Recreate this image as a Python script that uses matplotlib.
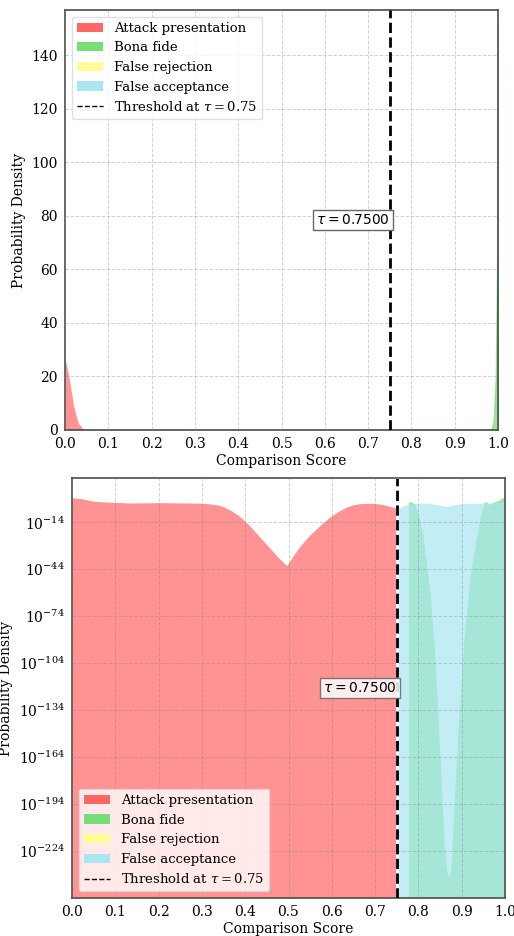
import matplotlib
matplotlib.use("Agg")
import matplotlib.pyplot as plt
import numpy as np
from matplotlib.patches import Patch
from matplotlib.lines import Line2D
from matplotlib.ticker import FixedLocator, NullLocator, LogFormatterSciNotation

plt.rcParams['font.family'] = ['DejaVu Serif']
plt.rcParams['mathtext.fontset'] = 'dejavuserif'
plt.rcParams['font.size'] = 10

# threshold on the comparison score
threshold = 0.75

# attack presentation scores: x and log10 of the density
attack_x = [0.0, 0.01, 0.02, 0.03, 0.04, 0.05, 0.065, 0.08, 0.1, 0.134, 0.17, 0.203,
            0.25, 0.28, 0.30, 0.32, 0.34, 0.355, 0.37, 0.388, 0.41, 0.434, 0.457,
            0.48, 0.497, 0.51, 0.527, 0.55, 0.573, 0.596, 0.619, 0.635, 0.65, 0.665,
            0.681, 0.70, 0.72, 0.74,
            0.75, 0.76, 0.77, 0.782, 0.80, 0.82, 0.84, 0.865, 0.88, 0.90, 0.93, 0.96,
            0.98, 1.0]
attack_log = [1.43, 1.28, 0.95, 0.45, -0.2, -0.7, -1.1, -1.3, -1.5, -1.9, -1.8, -1.7,
              -1.85, -1.95, -2.1, -2.5, -3.3, -4.8, -7.0, -10.4, -16.0, -23.4, -30.5,
              -37.5, -42.0, -36.5, -29.8, -22.5, -16.5, -11.0, -6.8, -4.5, -3.1, -2.4,
              -2.1, -2.2, -3.0, -4.4,
              -5.3, -4.6, -3.3, -2.5, -2.1, -2.0, -2.8, -4.2, -3.2, -2.3, -2.1, -2.0,
              -1.6, -1.0]

# bona fide scores: x and log10 of the density
bona_x = [0.778, 0.782, 0.786, 0.792, 0.80, 0.81, 0.82, 0.83, 0.838, 0.845, 0.852,
          0.861, 0.866, 0.871, 0.876, 0.880, 0.89, 0.904, 0.92, 0.938, 0.948, 0.954,
          0.958, 0.965, 0.972, 0.977, 0.985, 0.99, 0.995, 0.998, 1.0]
bona_log = [-1.3, -1.0, -1.3, -2.5, -8.0, -20.0, -40.0, -65.0, -96.0, -130.0, -170.0,
            -222.0, -236.0, -242.0, -236.0, -215.0, -160.0, -96.0, -50.0, -19.0, -6.0,
            -1.3, -1.0, -3.2, -1.8, -1.0, -0.5, 0.5, 1.3, 1.8, 2.18]

x_ticks = [0.0, 0.1, 0.2, 0.3, 0.4, 0.5, 0.6, 0.7, 0.8, 0.9, 1.0]
lin_ticks = [0, 20, 40, 60, 80, 100, 120, 140]
log_ticks = [-224, -194, -164, -134, -104, -74, -44, -14]

c_attack, c_bona, c_frr, c_far = '#ff6666', '#77dd77', '#fdfd96', '#aae6f0'

ax_ = np.array(attack_x)
ad = 10.0 ** np.array(attack_log)
bx = np.array(bona_x)
bd = 10.0 ** np.array(bona_log)


def draw(ax, log_scale):
    lo, hi = ax_ <= threshold, ax_ >= threshold
    ax.fill_between(ax_[lo], ad[lo], color=c_attack, alpha=0.7, lw=0)
    bhi, blo = bx >= threshold, bx <= threshold
    ax.fill_between(bx[bhi], bd[bhi], color=c_bona, alpha=0.7,
                    lw=0 if log_scale else 1.0)
    if blo.any():
        ax.fill_between(bx[blo], bd[blo], color=c_frr, alpha=0.7, lw=0)
    ax.fill_between(ax_[hi], ad[hi], color=c_far, alpha=0.7, lw=0)

    if log_scale:
        ax.axvline(threshold, color='white', lw=2, zorder=4)
    ax.axvline(threshold, color='black', lw=2, ls='--', zorder=4)

    ax.set_xlim(0, 1)
    ax.set_xticks(x_ticks)
    ax.grid(True, ls='--', color='gray', alpha=0.35, lw=0.7)
    ax.set_axisbelow(False)
    ax.tick_params(length=0, pad=5)
    for s in ax.spines.values():
        s.set_color('0.3')
        s.set_linewidth(1.2)
    ax.set_xlabel('Comparison Score', labelpad=2)
    ax.set_ylabel('Probability Density')

    ax.text(threshold, 0.5, r'$\tau = 0.7500$', transform=ax.get_xaxis_transform(),
            ha='right', va='center', fontsize=10, math_fontfamily='dejavusans',
            bbox=dict(boxstyle='square,pad=0.2', facecolor='white', edgecolor='0.4',
                      alpha=0.85 if log_scale else 1.0), zorder=6)

    handles = [Patch(facecolor=c_attack, label='Attack presentation'),
               Patch(facecolor=c_bona, label='Bona fide'),
               Patch(facecolor=c_frr, label='False rejection'),
               Patch(facecolor=c_far, label='False acceptance'),
               Line2D([0], [0], color='black', lw=1, ls='--',
                      label=r'Threshold at $\tau = 0.75$')]
    leg = ax.legend(handles=handles, loc='lower left' if log_scale else 'upper left',
                    fontsize=9.5, framealpha=0.8, fancybox=True,
                    handlelength=2.0, borderpad=0.4, labelspacing=0.5)
    leg.get_frame().set_edgecolor('0.85')


fig = plt.figure(figsize=(5.14, 9.36), dpi=100)
ax1 = fig.add_axes([65 / 514, 1 - 430 / 936, 433 / 514, 420 / 936])
ax2 = fig.add_axes([72 / 514, 1 - 898 / 936, 433 / 514, 420 / 936])

draw(ax1, False)
ax1.set_ylim(0, 157)
ax1.set_yticks(lin_ticks)

draw(ax2, True)
ax2.set_yscale('log')
ax2.set_ylim(10.0 ** -254.4, 10.0 ** 14.4)
ax2.yaxis.set_major_locator(FixedLocator([10.0 ** e for e in log_ticks]))
ax2.yaxis.set_minor_locator(NullLocator())
ax2.yaxis.set_major_formatter(LogFormatterSciNotation())

fig.savefig('out.png', dpi=100)
